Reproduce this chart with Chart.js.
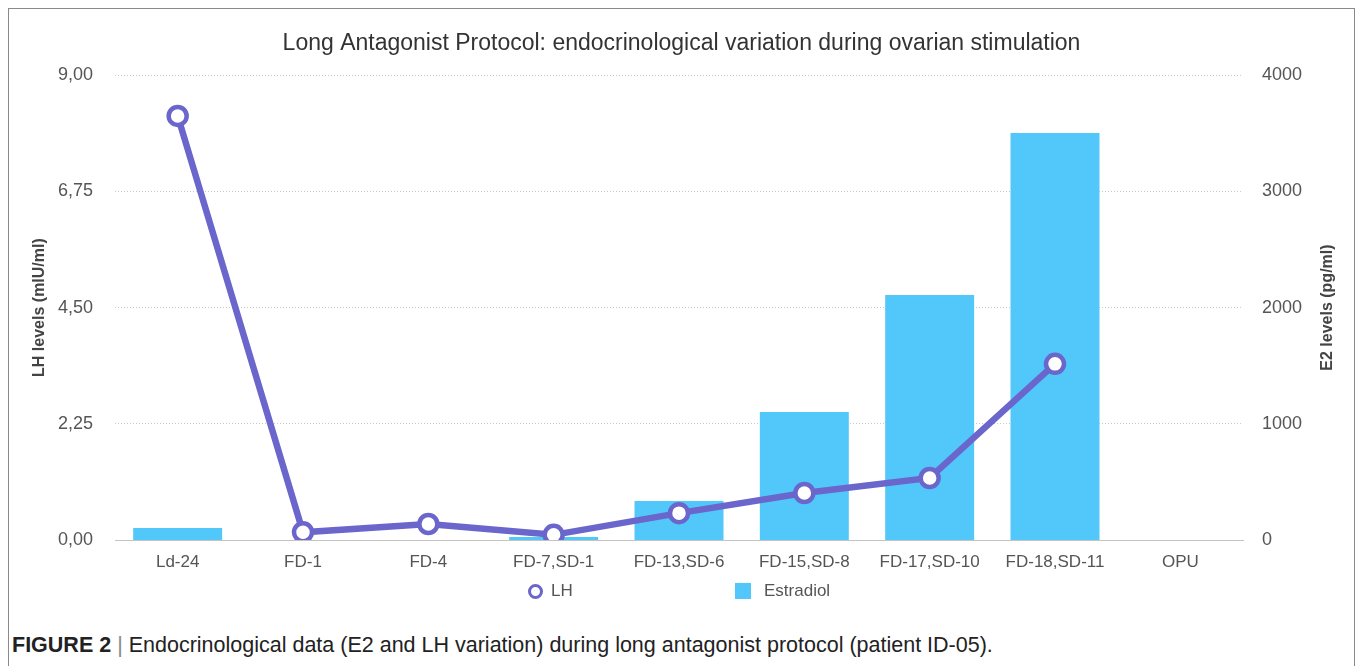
<!DOCTYPE html>
<html lang="en">

<head>
    <meta charset="UTF-8">
    <meta name="viewport" content="width=device-width, initial-scale=1.0">

    <script src="https://cdn.jsdelivr.net/npm/chart.js@4.4.3/dist/chart.umd.min.js"></script>

    <style>
        html,
        body {
            margin: 0;
            padding: 0;
            width: 1358px;
            height: 666px;
            background: #fff;
            overflow: hidden;
            font-family: "Liberation Sans", Arial, sans-serif;
        }

        #frame {
            position: absolute;
            left: 8px;
            top: 8px;
            width: 1345px;
            height: 670px;
            border: 1.5px solid #8a8a8a;
            border-bottom: none;
        }

        #chart_box {
            position: absolute;
            left: 9px;
            top: 9px;
            width: 1345px;
            height: 575px;
        }

        .legend_item {
            position: absolute;
            top: 580px;
            font-size: 17px;
            color: #555;
            line-height: 22px;
        }

        .legend_ring {
            position: absolute;
            left: 528px;
            top: 584px;
            width: 9px;
            height: 9px;
            border: 3px solid #6a66cc;
            border-radius: 50%;
        }

        .legend_box {
            position: absolute;
            left: 735px;
            top: 583px;
            width: 16px;
            height: 16px;
            background: #52c8fa;
        }

        #caption {
            position: absolute;
            left: 12px;
            top: 633px;
            font-size: 21.5px;
            color: #222;
            white-space: nowrap;
        }
    </style>
</head>

<body>
    <div id="frame"></div>
    <div id="chart_box"><canvas></canvas></div>

    <div class="legend_ring"></div>
    <div class="legend_item" style="left: 551px;">LH</div>
    <div class="legend_box"></div>
    <div class="legend_item" style="left: 764px;">Estradiol</div>

    <div id="caption"><b>FIGURE 2</b> <span style="color:#888">|</span> Endocrinological data (E2 and LH variation) during long antagonist protocol (patient ID-05).</div>

    <script>
        const days = ["Ld-24", "FD-1", "FD-4", "FD-7,SD-1", "FD-13,SD-6", "FD-15,SD-8", "FD-17,SD-10", "FD-18,SD-11", "OPU"];
        const lh_levels = [8.21, 0.15, 0.31, 0.10, 0.52, 0.91, 1.20, 3.41, null];
        const estradiol_levels = [103, 0, 0, 26, 335, 1101, 2108, 3501, null];
        const lh_ticks = [0, 2.25, 4.5, 6.75, 9];
        const e2_ticks = [0, 1000, 2000, 3000, 4000];

        const tick_font = { family: "'Liberation Sans', Arial, sans-serif", size: 17 };
        const value_font = { family: "'Liberation Sans', Arial, sans-serif", size: 18 };

        // right axis title reads bottom-to-top, Chart.js would turn it the other way
        const right_title = {
            id: "right_title",
            afterDraw(chart) {
                let ctx = chart.ctx;
                let area = chart.chartArea;
                ctx.save();
                ctx.translate(1319, (area.top + area.bottom) / 2);
                ctx.rotate(-Math.PI / 2);
                ctx.font = "bold 16px 'Liberation Sans', Arial, sans-serif";
                ctx.fillStyle = "#444";
                ctx.textAlign = "center";
                ctx.textBaseline = "middle";
                ctx.fillText("E2 levels (pg/ml)", 0, 0);
                ctx.restore();
            }
        };

        let ctx = document.querySelector("canvas");
        let chartjs = new Chart(ctx, {
            data: {
                labels: days,
                datasets: [
                    {
                        type: "line",
                        label: "LH",
                        data: lh_levels,
                        yAxisID: "lh",
                        borderColor: "#6a66cc",
                        borderWidth: 6.5,
                        pointRadius: 9,
                        pointBorderWidth: 4.5,
                        pointBackgroundColor: "#fff",
                        pointBorderColor: "#6a66cc",
                        tension: 0,
                        order: 0
                    },
                    {
                        type: "bar",
                        label: "Estradiol",
                        data: estradiol_levels,
                        yAxisID: "e2",
                        backgroundColor: "#52c8fa",
                        categoryPercentage: 1,
                        barPercentage: 0.71,
                        order: 1
                    }
                ]
            },
            options: {
                responsive: true,
                maintainAspectRatio: false,
                animation: false,
                layout: { padding: 0 },
                plugins: {
                    legend: { display: false },
                    tooltip: { enabled: false },
                    title: {
                        display: true,
                        text: "Long Antagonist Protocol: endocrinological variation during ovarian stimulation",
                        color: "#333",
                        font: { family: "'Liberation Sans', Arial, sans-serif", size: 23, weight: "normal" },
                        padding: { top: 20.5, bottom: 18 }
                    }
                },
                scales: {
                    x: {
                        grid: { display: false, drawTicks: false },
                        border: { display: true, color: "#c4c4c4", width: 1 },
                        ticks: { color: "#555", font: tick_font, padding: 12, maxRotation: 0, autoSkip: false },
                        afterFit(scale) { scale.height = 44; }
                    },
                    lh: {
                        type: "linear",
                        position: "left",
                        min: 0,
                        max: 9,
                        afterBuildTicks(scale) { scale.ticks = lh_ticks.map(v => ({ value: v })); },
                        grid: { color: "#c8c8c8", drawTicks: false },
                        border: { display: false, dash: [1, 2] },
                        ticks: {
                            color: "#555",
                            font: value_font,
                            padding: 22,
                            callback: value => value.toFixed(2).replace(".", ",")
                        },
                        title: {
                            display: true,
                            text: "LH levels (mlU/ml)",
                            color: "#444",
                            font: { family: "'Liberation Sans', Arial, sans-serif", size: 16, weight: "bold" },
                            padding: { top: 21.4, bottom: 0 }
                        },
                        afterFit(scale) { scale.width = 106; }
                    },
                    e2: {
                        type: "linear",
                        position: "right",
                        min: 0,
                        max: 4000,
                        afterBuildTicks(scale) { scale.ticks = e2_ticks.map(v => ({ value: v })); },
                        grid: { display: false, drawTicks: false },
                        border: { display: false },
                        ticks: { color: "#555", font: value_font, padding: 19, callback: value => String(value) },
                        afterFit(scale) { scale.width = 111; }
                    }
                }
            },
            plugins: [right_title]
        });
    </script>
</body>

</html>
